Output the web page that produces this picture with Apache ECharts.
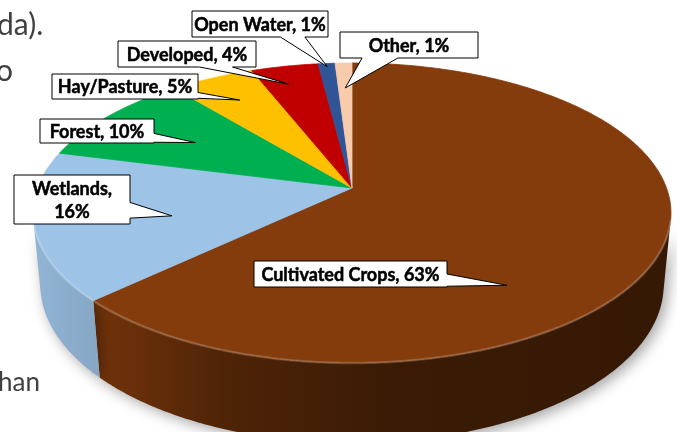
<!DOCTYPE html>
<html>
<head>
<meta charset="utf-8">
<script src="https://cdn.jsdelivr.net/npm/echarts@6/dist/echarts.min.js"></script>
<style>
  html, body { margin: 0; padding: 0; background: #ffffff; }
  #chart { width: 677px; height: 432px; }
</style>
</head>
<body>
<div id="chart"></div>
<script>
// ---- data ----
const categories = ['Cultivated Crops', 'Wetlands', 'Forest', 'Hay/Pasture', 'Developed', 'Open Water', 'Other'];
const percents = [63, 16, 10, 5, 4, 1, 1];
const sliceColors = ['#843C0C', '#9DC3E6', '#00B050', '#FFC000', '#C00000', '#2F5597', '#F8CBAD'];
const pageTexts = ['da).', 'o', 'han'];

// ---- layout / styling (not data) ----
// 3D projection of a tilted disc (perspective)
const P = { cx: 352, cy: 188, k: 1672, s: 0.4637, c: 0.886, D0: 5.316, h: 0.26 };
// callout boxes: box [x,y,w,h], side where wedge attaches, wedge base as fraction of side,
// tip given as [fraction within slice, radius fraction]
const callouts = [
  { box: [254, 261, 193, 26], side: 'right', base: [0.5, 0.97], tip: [0.633, 0.746], wrap: false },
  { box: [14, 175, 116, 49], side: 'right', base: [0.56, 0.88], tip: [0.43, 0.585], wrap: true },
  { box: [40, 119, 114, 24], side: 'right', base: [0.6, 0.97], tip: [0.49, 0.62], wrap: false },
  { box: [52, 74, 146, 25], side: 'right', base: [0.74, 0.97], tip: [0.5, 0.779], wrap: false },
  { box: [118, 41, 138, 26], side: 'bottom', base: [0.59, 0.83], tip: [0.4, 0.84], wrap: false },
  { box: [192, 11, 136, 26], side: 'bottom', base: [0.65, 0.83], tip: [0.5, 0.97], wrap: false },
  { box: [340, 32, 138, 26], side: 'bottom', base: [0.16, 0.42], tip: [0.5, 0.775], wrap: false }
];
const labelFamily = 'Lato';

function proj(r, phi, y) {
  const x = r * Math.sin(phi), z = -r * Math.cos(phi);
  const v = z * P.s - y * P.c;
  const D = P.D0 - z * P.c - y * P.s;
  return [P.cx + P.k * x / D, P.cy + P.k * v / D];
}
function shade(hex, m) {
  const n = parseInt(hex.slice(1), 16);
  const r = Math.round(((n >> 16) & 255) * m), g = Math.round(((n >> 8) & 255) * m), b = Math.round((n & 255) * m);
  return 'rgb(' + r + ',' + g + ',' + b + ')';
}
const total = percents.reduce((a, b) => a + b, 0);
const cum = [];
percents.reduce((acc, v, i) => { cum[i] = acc; return acc + v; }, 0);
// visible outer wall range
const wallLimit = Math.acos(-1 / (P.D0 * P.c));
const wallA = wallLimit, wallB = 2 * Math.PI - wallLimit;

function renderItem(params, api) {
  const i = params.dataIndex;
  const val = api.value(0);
  const a0 = cum[i] / total * 2 * Math.PI;
  const a1 = (cum[i] + val) / total * 2 * Math.PI;
  const color = sliceColors[i];
  const children = [];
  // top face
  const topPts = [proj(0, 0, 0)];
  const n = Math.max(4, Math.ceil((a1 - a0) / 0.01));
  for (let j = 0; j <= n; j++) topPts.push(proj(1, a0 + (a1 - a0) * j / n, 0));
  children.push({
    type: 'polygon', z2: 5,
    shape: { points: topPts },
    style: { fill: color, stroke: color, lineWidth: 0.8 }
  });
  // wall
  const w0 = Math.max(a0, wallA), w1 = Math.min(a1, wallB);
  if (w1 > w0) {
    const m = Math.max(2, Math.ceil((w1 - w0) / 0.01));
    const upper = [], lower = [];
    for (let j = 0; j <= m; j++) {
      const ph = w0 + (w1 - w0) * j / m;
      upper.push(proj(1, ph, 0));
      lower.push(proj(1, ph, -P.h));
    }
    const wallPts = upper.concat(lower.reverse());
    const x0 = P.cx - 320, x1 = P.cx + 320;
    children.push({
      type: 'polygon', z2: 1,
      shape: { points: wallPts },
      style: {
        fill: {
          type: 'linear', x: x0, y: 0, x2: x1, y2: 0, global: true,
          colorStops: [
            { offset: 0, color: shade(color, 0.93) },
            { offset: 0.12, color: shade(color, 0.84) },
            { offset: 0.3, color: shade(color, 0.6) },
            { offset: 0.55, color: shade(color, 0.45) },
            { offset: 1, color: shade(color, 0.4) }
          ]
        },
        stroke: null,
        shadowBlur: 14, shadowColor: 'rgba(0,0,0,0.35)', shadowOffsetX: 4, shadowOffsetY: 4
      }
    });
    // rim highlight along the front edge of the top face
    children.push({
      type: 'polyline', z2: 6,
      shape: { points: upper },
      style: { stroke: 'rgba(255,255,255,0.18)', lineWidth: 2.5, fill: null }
    });
  }
  // callout
  const co = callouts[i];
  const [bx, by, bw, bh] = co.box;
  const tipPhi = a0 + (a1 - a0) * co.tip[0];
  const tip = proj(co.tip[1], tipPhi, 0);
  let pts;
  if (co.side === 'right') {
    const yA = by + bh * co.base[0], yB = by + bh * co.base[1];
    pts = [[bx, by], [bx + bw, by], [bx + bw, yA], tip, [bx + bw, yB], [bx + bw, by + bh], [bx, by + bh]];
  } else {
    const xA = bx + bw * co.base[0], xB = bx + bw * co.base[1];
    pts = [[bx, by], [bx + bw, by], [bx + bw, by + bh], [xB, by + bh], tip, [xA, by + bh], [bx, by + bh]];
  }
  children.push({
    type: 'polygon', z2: 20,
    shape: { points: pts },
    style: { fill: '#ffffff', stroke: '#000000', lineWidth: 1 }
  });
  const name = categories[i];
  const txt = co.wrap ? name + ',\n' + val + '%' : name + ', ' + val + '%';
  children.push({
    type: 'text', z2: 21,
    x: bx + bw / 2, y: by + bh / 2 + 1,
    style: {
      text: txt, fill: '#000000', stroke: '#000000', lineWidth: 0.5,
      fontFamily: labelFamily, fontSize: 18, fontWeight: 'bold',
      align: 'center', verticalAlign: 'middle', lineHeight: 23
    }
  });
  return { type: 'group', children: children };
}

const pageStyle = { fontFamily: 'Lato', fill: '#404040' };
const chart = echarts.init(document.getElementById('chart'), null, { renderer: 'canvas' });
chart.setOption({
  backgroundColor: '#ffffff',
  animation: false,
  graphic: [
    { type: 'text', left: -3, top: 10, style: Object.assign({ text: pageTexts[0], fontSize: 30 }, pageStyle) },
    { type: 'text', left: -4, top: 56, style: Object.assign({ text: pageTexts[1], fontSize: 30 }, pageStyle) },
    { type: 'text', left: -2, top: 370, style: Object.assign({ text: pageTexts[2], fontSize: 26 }, pageStyle) }
  ],
  series: [{
    type: 'custom',
    coordinateSystem: 'none',
    renderItem: renderItem,
    data: percents.map((v, i) => ({ name: categories[i], value: [v] }))
  }]
});
</script>
</body>
</html>
